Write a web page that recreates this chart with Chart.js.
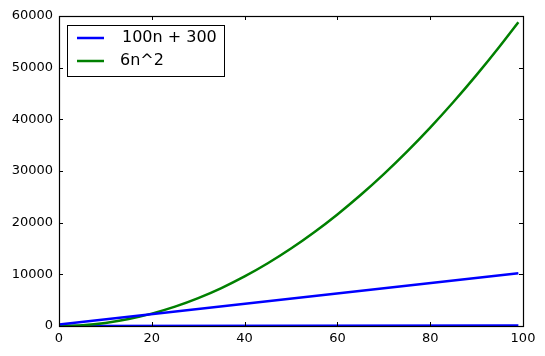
<!DOCTYPE html>
<html>
<head>
<meta charset="utf-8">
<script src="https://cdn.jsdelivr.net/npm/chart.js@4"></script>
<style>
html,body{margin:0;padding:0;background:#fff;}
#wrap{width:545px;height:356px;position:relative;}
</style>
</head>
<body>
<div id="wrap"><canvas id="c" width="545" height="356"></canvas></div>
<script>
// Data
const nLinear = [0, 99];
const linearValues = [300, 10200];           // "100n + 300"
const nQuad = [0,5,10,15,20,25,30,35,40,45,50,55,60,65,70,75,80,85,90,95,99];
const quadValues = [0,150,600,1350,2400,3750,5400,7350,9600,12150,15000,18150,21600,25350,29400,33750,38400,43350,48600,54150,58800]; // "6n^2"
const nFlat = [0, 99];
const flatValues = [0, 99];                  // unlabeled line near zero
const xTicks = [0,20,40,60,80,100];
const yTicks = [0,10000,20000,30000,40000,50000,60000];
const legendLabels = ['100n + 300', '6n^2'];

const toPts = (xs, ys) => xs.map((x,i)=>({x:x, y:ys[i]}));
const BLUE = '#0000ff', GREEN = '#008000';
const FONT = '"DejaVu Sans", sans-serif';

const framePlugin = {
  id: 'frame',
  afterDatasetsDraw(chart) {
    const {ctx, chartArea: a, scales} = chart;
    ctx.save();
    ctx.strokeStyle = '#000';
    ctx.lineWidth = 1;
    ctx.beginPath();
    xTicks.forEach(v => {
      const px = Math.round(scales.x.getPixelForValue(v)) + 0.5;
      ctx.moveTo(px, a.bottom); ctx.lineTo(px, a.bottom - 4);
      ctx.moveTo(px, a.top); ctx.lineTo(px, a.top + 4);
    });
    yTicks.forEach(v => {
      const py = Math.round(scales.y.getPixelForValue(v)) + 0.5;
      ctx.moveTo(a.left, py); ctx.lineTo(a.left + 4, py);
      ctx.moveTo(a.right, py); ctx.lineTo(a.right - 4, py);
    });
    ctx.stroke();
    ctx.lineWidth = 1.2;
    ctx.strokeRect(Math.round(a.left)+0.5, Math.round(a.top)+0.5, Math.round(a.right-a.left), Math.round(a.bottom-a.top));
    // legend
    const lx = 67.5, ly = 25.5, lw = 157, lh = 51;
    ctx.fillStyle = '#fff';
    ctx.fillRect(lx, ly, lw, lh);
    ctx.lineWidth = 1;
    ctx.strokeRect(lx, ly, lw, lh);
    const colors = [BLUE, GREEN];
    const rows = [38, 61];
    const textX = [122, 120];
    ctx.font = '16px ' + FONT;
    ctx.textBaseline = 'middle';
    legendLabels.forEach((lab, i) => {
      ctx.strokeStyle = colors[i];
      ctx.lineWidth = 2.5;
      ctx.beginPath();
      ctx.moveTo(77, rows[i]); ctx.lineTo(104, rows[i]);
      ctx.stroke();
      ctx.fillStyle = '#000';
      ctx.fillText(lab, textX[i], rows[i]);
    });
    ctx.restore();
  }
};

new Chart(document.getElementById('c'), {
  type: 'line',
  data: {
    datasets: [
      {data: toPts(nLinear, linearValues), borderColor: BLUE, borderWidth: 2.5, pointRadius: 0, fill: false},
      {data: toPts(nQuad, quadValues), borderColor: GREEN, borderWidth: 2.5, pointRadius: 0, fill: false, cubicInterpolationMode: 'monotone'},
      {data: toPts(nFlat, flatValues), borderColor: BLUE, borderWidth: 2.5, pointRadius: 0, fill: false}
    ]
  },
  options: {
    responsive: false,
    animation: false,
    events: [],
    layout: {padding: {top: 16, right: 22, left: 0, bottom: 0}},
    plugins: {legend: {display: false}, tooltip: {enabled: false}},
    scales: {
      x: {
        type: 'linear', min: 0, max: 100,
        afterFit(s) { s.height = 30; },
        afterBuildTicks(s) { s.ticks = xTicks.map(v => ({value: v})); },
        grid: {display: false, drawTicks: false},
        border: {display: false},
        ticks: {color: '#000', font: {family: FONT, size: 13}, padding: 5, maxRotation: 0}
      },
      y: {
        type: 'linear', min: 0, max: 60000,
        afterFit(s) { s.width = 59; },
        afterBuildTicks(s) { s.ticks = yTicks.map(v => ({value: v})); },
        grid: {display: false, drawTicks: false},
        border: {display: false},
        ticks: {color: '#000', font: {family: FONT, size: 13}, padding: 6, callback: v => String(v)}
      }
    }
  },
  plugins: [framePlugin]
});
</script>
</body>
</html>
